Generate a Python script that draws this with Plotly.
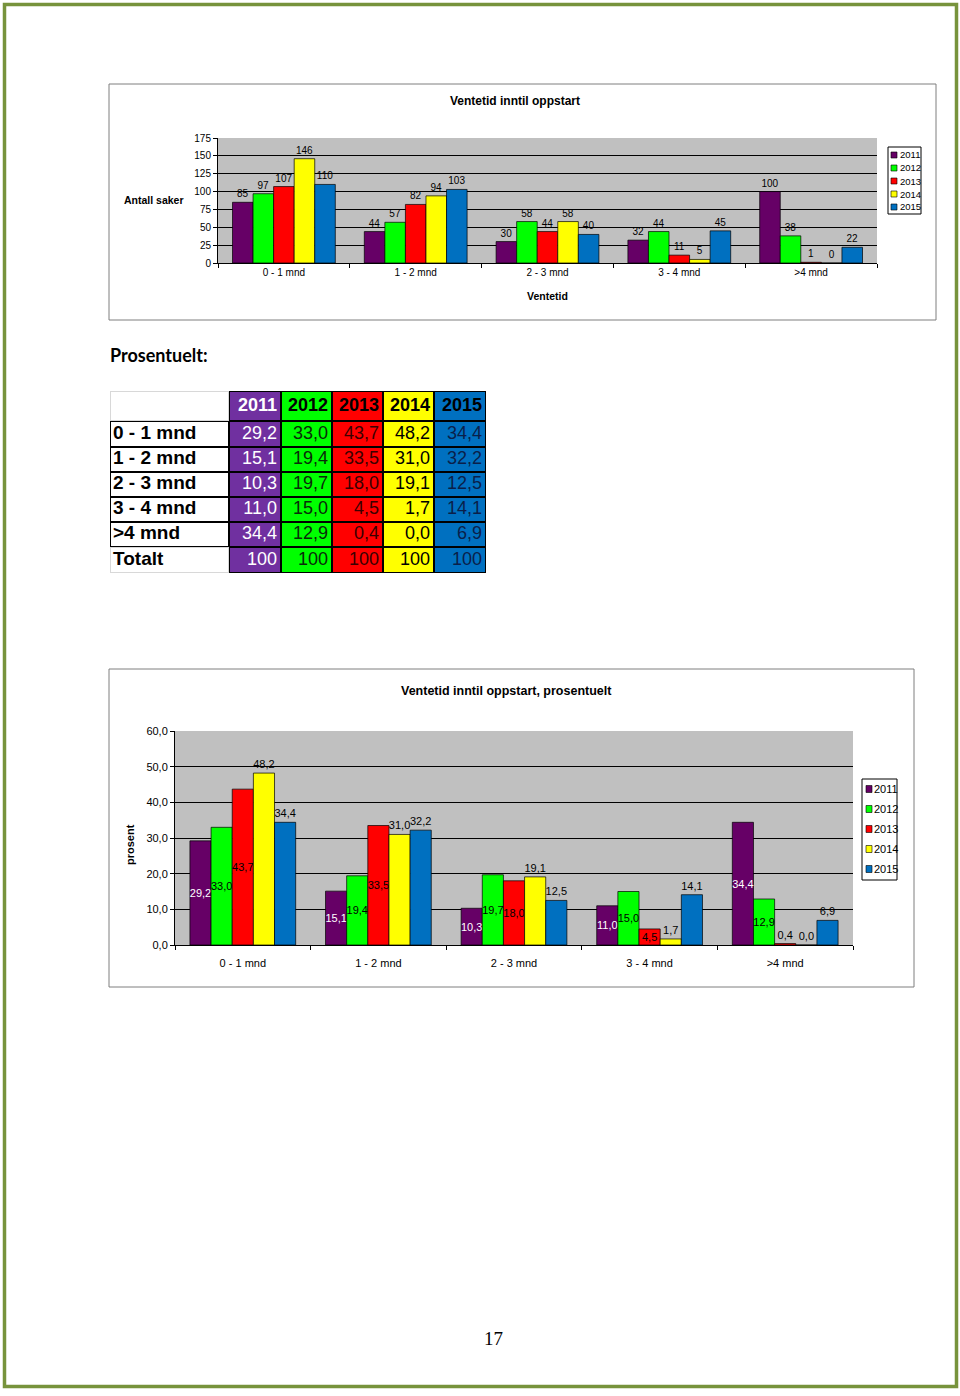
import plotly.graph_objects as go

# ---------------- data ----------------
categories = ["0 - 1 mnd", "1 - 2 mnd", "2 - 3 mnd", "3 - 4 mnd", ">4 mnd"]
years = ["2011", "2012", "2013", "2014", "2015"]

count_2011 = [85, 44, 30, 32, 100]
count_2012 = [97, 57, 58, 44, 38]
count_2013 = [107, 82, 44, 11, 1]
count_2014 = [146, 94, 58, 5, 0]
count_2015 = [110, 103, 40, 45, 22]

pct_2011 = [29.2, 15.1, 10.3, 11.0, 34.4]
pct_2012 = [33.0, 19.4, 19.7, 15.0, 12.9]
pct_2013 = [43.7, 33.5, 18.0, 4.5, 0.4]
pct_2014 = [48.2, 31.0, 19.1, 1.7, 0.0]
pct_2015 = [34.4, 32.2, 12.5, 14.1, 6.9]

total_label = "Totalt"
total_values = [100, 100, 100, 100, 100]

counts = [count_2011, count_2012, count_2013, count_2014, count_2015]
pcts = [pct_2011, pct_2012, pct_2013, pct_2014, pct_2015]

# ---------------- style ----------------
W, H = 960, 1396
def px(x):
    return x / W
def py(y):
    return 1 - y / H

bar_colors = ["#660066", "#00ff00", "#ff0000", "#ffff00", "#0070c0"]
table_colors = ["#7030a0", "#00ff00", "#ff0000", "#ffff00", "#0070c0"]
table_text = ["white", "#0a2a0a", "#3a0000", "black", "#0a1f4a"]
F1 = "Liberation Sans, Arial, sans-serif"

fig = go.Figure()

# chart 1: counts
for i, yr in enumerate(years):
    fig.add_trace(go.Bar(
        x=categories, y=counts[i], name=yr, xaxis="x", yaxis="y",
        marker=dict(color=bar_colors[i], line=dict(color="black", width=0.7)),
        texttemplate="%{y:.0f}", textposition="outside", cliponaxis=False,
        textfont=dict(family=F1, size=10, color="black"), showlegend=False, hoverinfo="skip"))

# chart 2: percentages
for i, yr in enumerate(years):
    if i < 3:
        pos = ["inside" if v >= 1 else "outside" for v in pcts[i]]
    else:
        pos = "outside"
    fig.add_trace(go.Bar(
        x=categories, y=pcts[i], name=yr, xaxis="x2", yaxis="y2",
        marker=dict(color=bar_colors[i], line=dict(color="black", width=0.7)),
        texttemplate="%{y:.1f}", textposition=pos, insidetextanchor="middle",
        constraintext="none", textangle=0, cliponaxis=False,
        insidetextfont=dict(family=F1, size=11, color="white" if i == 0 else "black"),
        outsidetextfont=dict(family=F1, size=11, color="black"),
        showlegend=False, hoverinfo="skip"))

# ---------------- table (heatmap cells + text) ----------------
def fmt(v):
    return f"{v:.1f}".replace(".", ",")

col_edges = [0, 119, 171, 222, 273, 324, 376]
row_edges = [0, 30, 56, 81, 106, 131, 156, 182]
n_rows = len(row_edges) - 1
n_cols = len(col_edges) - 1
zgrid = [[c for c in range(n_cols)] for _ in range(n_rows)]
cscale = []
all_fill = ["white"] + table_colors
for k, col in enumerate(all_fill):
    cscale.append([k / n_cols, col])
    cscale.append([(k + 1) / n_cols, col])
fig.add_trace(go.Heatmap(
    z=zgrid, x=col_edges, y=row_edges, xaxis="x3", yaxis="y3",
    colorscale=cscale, zmin=-0.5, zmax=n_cols - 0.5, showscale=False,
    xgap=2, ygap=2, hoverinfo="skip"))

row_mid = [(row_edges[r] + row_edges[r + 1]) / 2 for r in range(n_rows)]
# row labels
fig.add_trace(go.Scatter(
    x=[col_edges[0] + 3] * (n_rows - 1), y=row_mid[1:],
    text=[f"<b>{c}</b>" for c in categories + [total_label]],
    mode="text", textposition="middle right", xaxis="x3", yaxis="y3",
    textfont=dict(family=F1, size=19, color="black"), showlegend=False, hoverinfo="skip",
    cliponaxis=False))
# year columns
for i, yr in enumerate(years):
    vals = [f"<b>{yr}</b>"] + [fmt(v) for v in pcts[i]] + [str(total_values[i])]
    fig.add_trace(go.Scatter(
        x=[col_edges[i + 2] - 4] * n_rows, y=row_mid, text=vals,
        mode="text", textposition="middle left", xaxis="x3", yaxis="y3",
        textfont=dict(family=F1, size=18,
                      color=["white" if i == 0 else "black"] + [table_text[i]] * (n_rows - 1)),
        showlegend=False, hoverinfo="skip", cliponaxis=False))

axis_common = dict(showline=True, linecolor="black", linewidth=1, ticks="outside",
                   tickcolor="black", ticklen=4, zeroline=False)

fig.update_layout(
    width=W, height=H, margin=dict(l=0, r=0, t=0, b=0, pad=0, autoexpand=False),
    paper_bgcolor="white", plot_bgcolor="#c0c0c0",
    separators=",.",
    barmode="group", bargap=0.22, bargroupgap=0,
    xaxis=dict(domain=[px(218), px(877)], anchor="y", tickson="boundaries", showgrid=False,
               tickfont=dict(family=F1, size=10, color="black"), **axis_common),
    yaxis=dict(domain=[py(263), py(138)], anchor="x", range=[0, 175], dtick=25,
               showgrid=True, gridcolor="black", gridwidth=1,
               tickfont=dict(family=F1, size=10, color="black"), **axis_common),
    xaxis2=dict(domain=[px(175), px(853)], anchor="y2", tickson="boundaries", showgrid=False,
                ticklabelstandoff=8,
                tickfont=dict(family=F1, size=11, color="black"), **axis_common),
    yaxis2=dict(domain=[py(945), py(731)], anchor="x2", range=[0, 60], dtick=10, tickformat=".1f",
                showgrid=True, gridcolor="black", gridwidth=1,
                tickfont=dict(family=F1, size=11, color="black"), **axis_common),
    xaxis3=dict(domain=[px(110), px(486)], anchor="y3", range=[0, 376], visible=False, fixedrange=True),
    yaxis3=dict(domain=[py(573), py(391)], anchor="x3", range=[182, 0], visible=False, fixedrange=True),
)

shapes = [
    dict(type="rect", xref="paper", yref="paper", x0=px(4.5), x1=px(956.5), y0=py(1386.5), y1=py(4.5),
         line=dict(color="#77933c", width=3.5), layer="below"),
    dict(type="rect", xref="paper", yref="paper", x0=px(109), x1=px(936), y0=py(320), y1=py(84),
         line=dict(color="#7f7f7f", width=1), layer="below"),
    dict(type="rect", xref="paper", yref="paper", x0=px(109), x1=px(914), y0=py(987), y1=py(669),
         line=dict(color="#7f7f7f", width=1), layer="below"),
    # table border backgrounds
    dict(type="rect", xref="x3", yref="y3", x0=-1, x1=377, y0=-1, y1=183,
         fillcolor="black", line=dict(width=0), layer="below"),
    dict(type="rect", xref="x3", yref="y3", x0=-1, x1=119, y0=-1, y1=30,
         fillcolor="#d8d8d8", line=dict(width=0), layer="below"),
    dict(type="rect", xref="x3", yref="y3", x0=-1, x1=119, y0=156, y1=183,
         fillcolor="#d8d8d8", line=dict(width=0), layer="below"),
    # legend boxes
    dict(type="rect", xref="paper", yref="paper", x0=px(888), x1=px(921), y0=py(214), y1=py(147),
         line=dict(color="black", width=1), fillcolor="white"),
    dict(type="rect", xref="paper", yref="paper", x0=px(862), x1=px(897), y0=py(880), y1=py(779),
         line=dict(color="black", width=1), fillcolor="white"),
]
annotations = [
    dict(text="<b>Ventetid inntil oppstart</b>", x=px(515), y=py(101), font=dict(family=F1, size=12, color="black")),
    dict(text="<b>Antall saker</b>", x=px(154), y=py(200), font=dict(family=F1, size=10.5, color="black")),
    dict(text="<b>Ventetid</b>", x=px(547), y=py(296), font=dict(family=F1, size=10.5, color="black")),
    dict(text="<b>Ventetid inntil oppstart, prosentuelt</b>", x=px(507), y=py(691),
         font=dict(family=F1, size=12.5, color="black")),
    dict(text="<b>prosent</b>", x=px(130), y=py(845), textangle=-90, font=dict(family=F1, size=11, color="black")),
    dict(text="<b>Prosentuelt:</b>", x=px(108), y=py(355), xanchor="left",
         font=dict(family="Lato, sans-serif", size=18, color="black")),
    dict(text="17", x=px(493), y=py(1338), font=dict(family="Liberation Serif, serif", size=19, color="black")),
]
for i, yr in enumerate(years):
    cy = 155 + 13 * i
    shapes.append(dict(type="rect", xref="paper", yref="paper", x0=px(891), x1=px(897), y0=py(cy + 3), y1=py(cy - 3),
                       fillcolor=bar_colors[i], line=dict(color="black", width=0.6)))
    annotations.append(dict(text=yr, x=px(897.5), y=py(cy), xanchor="left",
                            font=dict(family=F1, size=9.5, color="black")))
    cy2 = 789 + 20 * i
    shapes.append(dict(type="rect", xref="paper", yref="paper", x0=px(866), x1=px(872), y0=py(cy2 + 3.5), y1=py(cy2 - 3.5),
                       fillcolor=bar_colors[i], line=dict(color="black", width=0.6)))
    annotations.append(dict(text=yr, x=px(872), y=py(cy2), xanchor="left",
                            font=dict(family=F1, size=11, color="black")))
for a in annotations:
    a.update(xref="paper", yref="paper", showarrow=False)
    a.setdefault("xanchor", "center")
    a.setdefault("yanchor", "middle")
fig.update_layout(shapes=shapes, annotations=annotations)

fig.write_html("out.html")
